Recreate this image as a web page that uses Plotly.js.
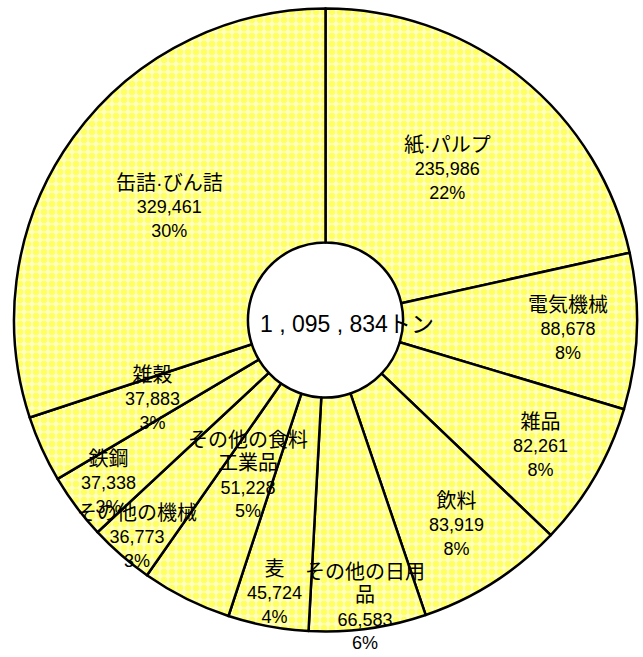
<!DOCTYPE html>
<html>
<head>
<meta charset="utf-8">
<script src="https://cdn.plot.ly/plotly-3.0.1.min.js"></script>
<style>html,body{margin:0;padding:0;background:#fff;}#chart{width:643px;height:657px;}</style>
</head>
<body>
<div id="chart"></div>
<script>
// ---- data ----
const categories = ["紙·パルプ", "電気機械", "雑品", "飲料", "その他の日用品", "麦", "その他の食料工業品", "その他の機械", "鉄鋼", "雑穀", "缶詰·びん詰"];
const displayNames = ["紙·パルプ", "電気機械", "雑品", "飲料", "その他の日用<br>品", "麦", "その他の食料<br>工業品", "その他の機械", "鉄鋼", "雑穀", "缶詰·びん詰"];
const tonnage = [235986, 88678, 82261, 83919, 66583, 45724, 51228, 36773, 37338, 37883, 329461];
const centerText = "1 , 095 , 834トン";

// ---- layout helpers (label placement, not data) ----
const labelRadius = [0.625, 0.78, 0.80, 0.78, 0.93, 0.89, 0.555, 0.92, 0.87, 0.61, 0.62];
const W = 643, H = 657;
const M = {l: 14, r: 6, t: 7, b: 24};
const plotW = W - M.l - M.r, plotH = H - M.t - M.b;
const R = Math.min(plotW, plotH) / 2;

const total = tonnage.reduce((a, b) => a + b, 0);
const fmt = n => n.toLocaleString('en-US');
const FONT = "Liberation Sans, Arial, Noto Sans CJK JP, sans-serif";

const annotations = [];
let cum = 0;
tonnage.forEach((v, i) => {
  const mid = (cum + v / 2) / total * 2 * Math.PI;
  cum += v;
  const rr = R * labelRadius[i];
  annotations.push({
    x: 0.5 + rr * Math.sin(mid) / plotW,
    y: 0.5 + rr * Math.cos(mid) / plotH,
    xref: 'paper', yref: 'paper',
    xanchor: 'center', yanchor: 'middle',
    showarrow: false,
    align: 'center',
    text: '<span style="font-size:20px">' + displayNames[i] + '</span><br>' + fmt(v) + '<br>' + Math.round(v / total * 100) + '%',
    font: {family: FONT, size: 18, color: '#000'}
  });
});
annotations.push({
  x: 0.5, y: 0.5, xref: 'paper', yref: 'paper',
  xanchor: 'left', yanchor: 'middle', xshift: -68, yshift: -4,
  showarrow: false, text: centerText,
  font: {family: FONT, size: 23, color: '#000'}
});

const trace = {
  type: 'pie',
  labels: categories,
  values: tonnage,
  sort: false,
  direction: 'clockwise',
  rotation: 0,
  hole: 0.249,
  textinfo: 'none',
  textposition: 'none',
  hoverinfo: 'skip',
  marker: {
    colors: categories.map(() => '#ffffc0'),
    line: {color: '#000', width: 2.5},
    pattern: {shape: '.', bgcolor: '#ffffc0', fgcolor: '#ffff00', size: 8, solidity: 0.5, fillmode: 'overlay'}
  }
};

const layout = {
  width: W, height: H,
  margin: M,
  showlegend: false,
  paper_bgcolor: '#fff',
  plot_bgcolor: '#fff',
  font: {family: FONT},
  annotations: annotations
};

Plotly.newPlot('chart', [trace], layout, {displayModeBar: false, staticPlot: true});
</script>
</body>
</html>
